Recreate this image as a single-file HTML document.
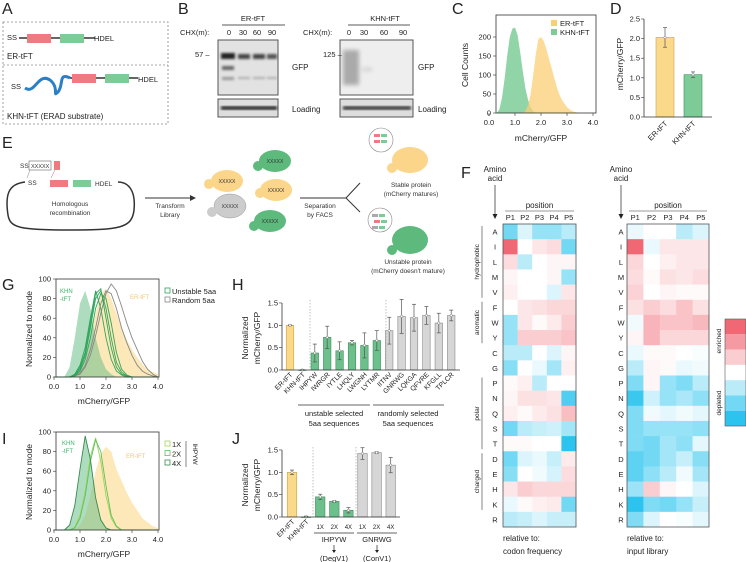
<!DOCTYPE html>
<html><head><meta charset="utf-8"><style>
html,body{margin:0;padding:0;background:#fff;width:746px;height:562px;overflow:hidden}
svg{font-family:"Liberation Sans",sans-serif;display:block}
</style></head><body>
<svg id="fig" width="746" height="562" viewBox="0 0 746 562">
<defs>
<filter id="blur1"><feGaussianBlur stdDeviation="1.2"/></filter>
<filter id="blur2"><feGaussianBlur stdDeviation="2"/></filter>
</defs>
<!-- Panel labels -->
<g font-size="16" fill="#222">
<text x="2" y="14">A</text><text x="178" y="14">B</text><text x="452" y="14">C</text><text x="610" y="14">D</text>
<text x="2" y="148">E</text><text x="461" y="178">F</text><text x="2" y="290">G</text><text x="232" y="290">H</text>
<text x="2" y="444">I</text><text x="232" y="444">J</text>
</g>
<!-- Panel A -->
<g font-size="7.5" fill="#222">
<rect x="3" y="22" width="165" height="102" fill="none" stroke="#888" stroke-dasharray="2,2" stroke-width="0.8"/>
<line x1="3" y1="65" x2="168" y2="65" stroke="#888" stroke-dasharray="2,2" stroke-width="0.8"/>
<text x="7" y="40">SS</text>
<line x1="19" y1="38" x2="95" y2="38" stroke="#333" stroke-width="1.5"/>
<rect x="27" y="34" width="24" height="9" fill="#f07a80"/>
<rect x="60" y="34" width="24" height="9" fill="#7dcc98"/>
<text x="94" y="41">HDEL</text>
<text x="7" y="59" font-size="8">ER-tFT</text>
<path d="M25,88 C35,95 38,72 50,80 C60,88 52,98 58,92 C64,85 58,72 70,78" stroke="#2a7fc6" stroke-width="3" fill="none"/>
<text x="11" y="89">SS</text>
<line x1="70" y1="78" x2="138" y2="78" stroke="#333" stroke-width="1.5"/>
<rect x="72" y="74" width="24" height="9" fill="#f07a80"/>
<rect x="105" y="74" width="24" height="9" fill="#7dcc98"/>
<text x="138" y="82">HDEL</text>
<text x="7" y="119" font-size="8">KHN-tFT (ERAD substrate)</text>
</g>
<!-- Panel B -->
<g font-size="7.5" fill="#222">
<text x="253" y="21" text-anchor="middle" font-size="7.5">ER-tFT</text>
<line x1="222" y1="25" x2="285" y2="25" stroke="#222" stroke-width="0.8"/>
<text x="180" y="35">CHX(m):</text>
<text x="229" y="35" text-anchor="middle">0</text><text x="243" y="35" text-anchor="middle">30</text><text x="257" y="35" text-anchor="middle">60</text><text x="272" y="35" text-anchor="middle">90</text>
<rect x="218" y="40" width="60" height="55" fill="#e2e2e2" stroke="#555"/>
<g filter="url(#blur1)">
<rect x="221" y="53" width="14" height="6" fill="#222"/><rect x="238" y="54" width="12" height="5" fill="#444"/><rect x="253" y="54" width="12" height="5" fill="#444"/><rect x="267" y="54" width="10" height="5" fill="#555"/>
<rect x="222" y="66" width="12" height="4" fill="#666"/><rect x="222" y="77" width="12" height="3" fill="#999"/><rect x="238" y="77" width="12" height="2" fill="#aaa"/><rect x="253" y="77" width="12" height="2" fill="#aaa"/><rect x="267" y="77" width="10" height="2" fill="#aaa"/>
</g>
<rect x="218" y="99" width="60" height="18" fill="#ddd" stroke="#555"/>
<g filter="url(#blur1)"><rect x="221" y="106" width="56" height="4" fill="#333"/></g>
<text x="195" y="57">57 –</text><text x="292" y="70" font-size="8">GFP</text><text x="292" y="112" font-size="8">Loading</text>
<text x="385" y="21" text-anchor="middle">KHN-tFT</text>
<line x1="348" y1="25" x2="410" y2="25" stroke="#222" stroke-width="0.8"/>
<text x="303" y="35">CHX(m):</text>
<text x="349" y="35" text-anchor="middle">0</text><text x="364" y="35" text-anchor="middle">30</text><text x="384" y="35" text-anchor="middle">60</text><text x="403" y="35" text-anchor="middle">90</text>
<rect x="340" y="40" width="73" height="55" fill="#eee" stroke="#555"/>
<g filter="url(#blur2)"><rect x="343" y="50" width="16" height="35" fill="#aaa"/><rect x="362" y="68" width="10" height="3" fill="#ccc"/></g>
<rect x="340" y="99" width="73" height="18" fill="#ddd" stroke="#555"/>
<g filter="url(#blur1)"><rect x="343" y="106" width="68" height="4" fill="#444"/></g>
<text x="323" y="57">125 –</text><text x="418" y="70" font-size="8">GFP</text><text x="418" y="112" font-size="8">Loading</text>
</g>
<!-- Panel E -->
<g font-size="6.5" fill="#333">
<rect x="29" y="161" width="22" height="9" fill="#fff" stroke="#666" stroke-width="0.6"/>
<text x="20" y="168">SS</text><text x="31" y="168" font-size="5.5">XXXXX</text>
<rect x="54" y="161" width="6" height="9" fill="#f07a80"/>
<line x1="30" y1="170" x2="27" y2="178" stroke="#888" stroke-width="0.5"/><line x1="55" y1="170" x2="51" y2="178" stroke="#888" stroke-width="0.5"/>
<path d="M25,182 C8,184 5,195 8,215 C10,228 20,230 70,230 C120,230 132,228 134,210 C136,190 128,182 118,182" fill="none" stroke="#333" stroke-width="1.5"/>
<text x="28" y="185">SS</text>
<rect x="50" y="180" width="18" height="7" fill="#f07a80"/><rect x="73" y="180" width="18" height="7" fill="#7dcc98"/>
<text x="95" y="186">HDEL</text>
<text x="70" y="206" text-anchor="middle">Homologous</text><text x="70" y="215" text-anchor="middle">recombination</text>
<line x1="145" y1="198" x2="195" y2="198" stroke="#333"/><path d="M196,198 l-6,-3 v6z" fill="#333"/>
<text x="170" y="208" text-anchor="middle">Transform</text><text x="170" y="217" text-anchor="middle">Library</text>
<g font-size="5">
<ellipse cx="227" cy="181" rx="16" ry="11" fill="#fad58a"/><circle cx="209" cy="184" r="5" fill="#fad58a"/><text x="227" y="183" text-anchor="middle">XXXXX</text>
<ellipse cx="275" cy="161" rx="16" ry="11" fill="#5dba7c"/><circle cx="258" cy="166" r="5" fill="#5dba7c"/><text x="275" y="163" text-anchor="middle">XXXXX</text>
<ellipse cx="276" cy="190" rx="16" ry="11" fill="#fad58a"/><circle cx="260" cy="193" r="5" fill="#fad58a"/><text x="276" y="192" text-anchor="middle">XXXXX</text>
<ellipse cx="230" cy="206" rx="16" ry="12" fill="#ccc" stroke="#999" stroke-width="0.5"/><circle cx="212" cy="212" r="5" fill="#ccc"/><text x="230" y="208" text-anchor="middle">XXXXX</text>
<ellipse cx="270" cy="221" rx="16" ry="11" fill="#5dba7c"/><circle cx="254" cy="226" r="5" fill="#5dba7c"/><text x="270" y="223" text-anchor="middle">XXXXX</text>
</g>
<line x1="300" y1="198" x2="346" y2="198" stroke="#333"/>
<line x1="346" y1="198" x2="360" y2="183" stroke="#333"/><line x1="346" y1="198" x2="360" y2="212" stroke="#333"/>
<text x="320" y="208" text-anchor="middle">Separation</text><text x="320" y="217" text-anchor="middle">by FACS</text>
<ellipse cx="410" cy="160" rx="18" ry="13" fill="#fad58a"/><circle cx="392" cy="168" r="5" fill="#fad58a"/>
<circle cx="381" cy="140" r="12" fill="#fff" stroke="#888" stroke-width="0.6"/>
<rect x="374" y="134" width="6" height="3" fill="#f07a80"/><rect x="381" y="134" width="6" height="3" fill="#7dcc98"/><rect x="374" y="140" width="6" height="3" fill="#f07a80"/><rect x="381" y="140" width="6" height="3" fill="#7dcc98"/>
<text x="411" y="187" text-anchor="middle">Stable protein</text><text x="411" y="196" text-anchor="middle">(mCherry matures)</text>
<ellipse cx="410" cy="240" rx="18" ry="14" fill="#5dba7c"/><circle cx="392" cy="250" r="5" fill="#5dba7c"/>
<circle cx="380" cy="220" r="12" fill="#fff" stroke="#888" stroke-width="0.6"/>
<rect x="372" y="214" width="6" height="3" fill="#aaa"/><rect x="379" y="214" width="6" height="3" fill="#7dcc98"/><rect x="374" y="220" width="6" height="3" fill="#f07a80"/><rect x="381" y="220" width="6" height="3" fill="#7dcc98"/><rect x="372" y="226" width="6" height="3" fill="#aaa"/><rect x="379" y="226" width="6" height="3" fill="#7dcc98"/>
<text x="408" y="264" text-anchor="middle">Unstable protein</text><text x="408" y="273" text-anchor="middle">(mCherry doesn't mature)</text>
</g>
<g id="charts"></g>
</svg>
<script>
// ---------- DATA ----------
var cX = [0.3,0.4,0.5,0.6,0.7,0.8,0.9,1.0,1.1,1.2,1.3,1.4,1.5,1.6,1.7,1.8,1.9,2.0,2.1,2.2,2.3,2.4,2.5,2.6,2.7,2.8,2.9,3.0,3.1,3.2,3.3,3.4,3.5];
var cKHN = [0,10,40,90,150,200,222,225,205,160,110,65,35,15,5,0,0,0,0,0,0,0,0,0,0,0,0,0,0,0,0,0,0];
var cER = [0,0,0,0,0,0,0,0,0,0,0,5,20,50,100,155,195,200,190,170,145,120,95,70,50,35,25,15,10,5,3,1,0];
var cTicksX = [0,1,2,3,4];
var cTicksY = [0,50,100,150,200];
var dCats = ["ER-tFT","KHN-tFT"];
var dVals = [2.03,1.08];
var dErr = [0.25,0.07];
var dTicks = [0,0.5,1.0,1.5,2.0,2.5];
var gX = [0,0.2,0.4,0.6,0.8,1.0,1.2,1.4,1.6,1.8,2.0,2.2,2.4,2.6,2.8,3.0,3.2,3.4,3.6,3.8,4.0];
var gKHN = [0,0,0,10,40,75,88,70,40,20,8,3,0,0,0,0,0,0,0,0,0];
var gER = [0,0,0,0,2,8,20,40,65,85,90,80,65,50,38,28,20,13,8,5,3];
var gU1 = [0,0,0,0,3,12,30,60,88,70,40,18,6,2,0,0,0,0,0,0,0];
var gU2 = [0,0,0,0,2,10,25,55,85,90,60,30,10,3,1,0,0,0,0,0,0];
var gU3 = [0,0,0,0,2,8,22,50,80,88,70,40,15,5,1,0,0,0,0,0,0];
var gU4 = [0,0,0,0,1,6,18,40,70,85,80,55,25,8,2,0,0,0,0,0,0];
var gR1 = [0,0,0,0,1,4,12,28,50,75,88,85,70,50,35,22,12,6,3,1,0];
var gR2 = [0,0,0,0,1,3,10,22,42,65,85,95,88,72,55,40,28,16,8,3,0];
var iKHN = [0,0,0,5,25,60,95,75,35,12,3,0,0,0,0,0,0,0,0,0,0];
var iER = [0,0,0,0,1,5,15,35,60,78,85,80,62,50,38,28,20,12,8,4,2];
var i1X = [0,0,0,0,3,15,40,75,94,70,35,12,3,0,0,0,0,0,0,0,0];
var i2X = [0,0,0,0,2,12,35,70,92,80,45,15,4,0,0,0,0,0,0,0,0];
var i4X = [0,0,0,5,25,62,96,72,33,10,2,0,0,0,0,0,0,0,0,0,0];
var histTicksY = [0,20,40,60,80,100];
var hCats = ["ER-tFT","KHN-tFT","IHPYW","IWRGR","IYTLE","LHQLY","LWGNH","LYTMR","IITNV","GNRWG","LQKGA","QFVRE","KFGLL","TPLCR"];
var hVals = [1.0,0.0,0.38,0.73,0.43,0.61,0.55,0.66,0.88,1.2,1.17,1.22,1.05,1.22];
var hErr = [0.01,0.01,0.2,0.25,0.2,0.05,0.28,0.22,0.3,0.38,0.3,0.2,0.22,0.12];
var hGroup = ["er","khn","u","u","u","u","u","u","r","r","r","r","r","r"];
var jCats = ["ER-tFT","KHN-tFT","1X","2X","4X","1X","2X","4X"];
var jVals = [1.0,0.0,0.45,0.35,0.15,1.42,1.44,1.16];
var jErr = [0.05,0.02,0.06,0.02,0.06,0.13,0.02,0.17];
var jGroup = ["er","khn","u","u","u","r","r","r"];
var barTicks = [0,0.5,1.0,1.5];
var aminoAcids = ["A","I","L","M","V","F","W","Y","C","G","P","N","Q","S","T","D","E","H","K","R"];
var positions = ["P1","P2","P3","P4","P5"];
var heatCodon = [
[-2,-0.5,-1.5,-1.5,-1],[3,0,0.5,0.7,-2],[0.7,-1,0,0.2,0.2],[0.2,0,0,0.2,-1.5],[0.3,0,0,-0.5,0.5],
[0,0.5,0.6,0.8,0.8],[-1.5,0.5,0.1,0.4,1],[-1.5,1,1,1,1.2],[-1,-1,0,-0.5,0.2],[-1.7,0,-0.3,-1.3,0.3],
[0.1,0.3,-1,0,0],[0.2,0.6,0.6,0.5,-2.5],[0.3,0.1,0.4,0.6,1.3],[-2,-1,-0.8,-0.7,-1.3],[0.1,0.1,0,0,-3],
[-2,-0.5,-0.3,-0.8,0.4],[-1.7,0,-0.2,-0.6,0.7],[0.5,1,0.8,0.8,0.8],[-0.3,0.1,0.3,0.4,-2],[-1,-0.8,-0.5,-0.8,-0.8]];
var heatInput = [
[-0.3,0,0,-1,-0.5],[3,-0.3,0.5,0.5,0.5],[0.8,0,0.3,0.5,0.5],[0.7,0.1,0.6,0.5,0.7],[0.9,0,0.2,0.1,0.1],
[0.6,1,0.7,1.2,0.6],[-0.2,1.5,1.2,1.2,1.4],[0.2,1.5,0.8,0.8,0.8],[-0.3,0.1,0.1,0,-0.1],[-1,0.2,0.1,-0.3,-0.2],
[-1.8,0.2,-1.5,-1.8,-1],[-2.8,-0.7,-1.5,-1.2,-1.6],[-1.8,-0.2,-0.4,-0.2,-0.4],[-1.8,-1.5,-1.5,-1.5,-1.6],[-1.8,-2,-1.3,-1.6,-0.4],
[-2.3,-2,-1.3,-0.8,-1.7],[-2.3,-1.6,-1,-0.2,-1.3],[-1.4,1,0.2,0,-0.5],[-3,-1.8,-2,-1.5,-0.8],[-1.8,-0.5,0,-0.1,-0.4]];
var legendLevels = [3,2,1,0,-1,-2,-3];

// ---------- HELPERS ----------
var NS = "http://www.w3.org/2000/svg";
var root = document.getElementById("charts");
function mk(tag, attrs, parent, txt) {
  var el = document.createElementNS(NS, tag);
  for (var k in attrs) el.setAttribute(k, attrs[k]);
  if (txt !== undefined) el.textContent = txt;
  (parent || root).appendChild(el);
  return el;
}
function grp(name) {
  var g = mk("g", {});
  
  
  return g;
}
function heatColor(v) {
  var t = Math.min(1, Math.abs(v) / 3);
  var c = v >= 0 ? [240,104,116] : [44,196,238];
  var r = Math.round(255 + (c[0]-255)*t), g = Math.round(255 + (c[1]-255)*t), b = Math.round(255 + (c[2]-255)*t);
  return "rgb(" + r + "," + g + "," + b + ")";
}
function histPath(xs, ys, sx, sy, close) {
  var d = "";
  for (var i = 0; i < xs.length; i++) d += (i ? "L" : "M") + sx(xs[i]).toFixed(1) + "," + sy(ys[i]).toFixed(1);
  if (close) d += "L" + sx(xs[xs.length-1]).toFixed(1) + "," + sy(0) + "L" + sx(xs[0]).toFixed(1) + "," + sy(0) + "Z";
  return d;
}
var FS = 7.5;

// ---------- PANEL C ----------
(function(){
  var g = grp("panel-c-histogram");
  var sx = function(v){return 489 + v*26;}, sy = function(v){return 113 - v*0.38;};
  var a = mk("path", {d: histPath(cX, cKHN, sx, sy, true), fill:"#7dcc98", "fill-opacity":"0.85"}, g);
  
  
  var b = mk("path", {d: histPath(cX, cER, sx, sy, true), fill:"#fbcf75", "fill-opacity":"0.75"}, g);
  
  
  mk("rect", {x:496, y:15, width:100, height:98, fill:"none", stroke:"#333", "stroke-width":0.8}, g);
  cTicksX.forEach(function(t){
    mk("line",{x1:sx(t),y1:113,x2:sx(t),y2:116,stroke:"#333","stroke-width":0.6},g);
    var tx = mk("text",{x:sx(t),y:125,"font-size":FS,"text-anchor":"middle",fill:"#222"},g,t.toFixed(1));
    
    
  });
  cTicksY.forEach(function(t){
    mk("line",{x1:493,y1:sy(t),x2:496,y2:sy(t),stroke:"#333","stroke-width":0.6},g);
    var ty = mk("text",{x:491,y:sy(t)+2.5,"font-size":FS,"text-anchor":"end",fill:"#222"},g,t);
    
    
  });
  var xl = mk("text",{x:541,y:141,"font-size":8.5,"text-anchor":"middle",fill:"#222"},g,"mCherry/GFP");
  
  
  var yl = mk("text",{x:0,y:0,"font-size":8.5,"text-anchor":"middle",fill:"#222",transform:"translate(468,65) rotate(-90)"},g,"Cell Counts");
  
  
  mk("rect",{x:551,y:20,width:6,height:6,fill:"#fbcf75"},g);
  var l1 = mk("text",{x:560,y:26,"font-size":FS,fill:"#222"},g,"ER-tFT");
  
  
  mk("rect",{x:551,y:29,width:6,height:6,fill:"#7dcc98"},g);
  var l2 = mk("text",{x:560,y:35,"font-size":FS,fill:"#222"},g,"KHN-tFT");
  
  
})();

// ---------- BAR HELPER ----------
function barChart(g, cats, vals, errs, groups, centers, bw, sy, y0, ticks, axisX, axisR, fmt, prefix) {
  var fills = {er:"#fbd98b", khn:"#7dcc98", u:"#6cc08b", r:"#d6d6d6"};
  var strokes = {er:"#c9a24a", khn:"#3d8f5b", u:"#3d8f5b", r:"#888"};
  cats.forEach(function(c,i){
    var cx = centers[i], top = sy(vals[i]);
    var r = mk("rect",{x:cx-bw/2,y:top,width:bw,height:Math.max(0.5,y0-top),fill:fills[groups[i]],stroke:strokes[groups[i]],"stroke-width":0.6},g);
    
    
    var e1 = sy(vals[i]+errs[i]), e2 = sy(Math.max(0,vals[i]-errs[i]));
    mk("line",{x1:cx,y1:e1,x2:cx,y2:e2,stroke:"#555","stroke-width":0.7},g);
    mk("line",{x1:cx-2,y1:e1,x2:cx+2,y2:e1,stroke:"#555","stroke-width":0.7},g);
    mk("line",{x1:cx-2,y1:e2,x2:cx+2,y2:e2,stroke:"#555","stroke-width":0.7},g);
    mk("circle",{cx:cx,cy:top,r:1.2,fill:"#fff",stroke:"#777","stroke-width":0.5},g);
  });
  mk("line",{x1:axisX,y1:y0,x2:axisR,y2:y0,stroke:"#333","stroke-width":0.8},g);
  mk("line",{x1:axisX,y1:y0,x2:axisX,y2:sy(ticks[ticks.length-1]),stroke:"#333","stroke-width":0.8},g);
  ticks.forEach(function(t){
    mk("line",{x1:axisX-3,y1:sy(t),x2:axisX,y2:sy(t),stroke:"#333","stroke-width":0.6},g);
    var tt = mk("text",{x:axisX-4,y:sy(t)+2.5,"font-size":FS,"text-anchor":"end",fill:"#222"},g,t.toFixed(1));
    
    
  });
}

// ---------- PANEL D ----------
(function(){
  var g = grp("panel-d-bar-chart");
  var sy = function(v){return 117 - v*39.2;};
  var centers = [665, 693];
  barChart(g, dCats, dVals, dErr, ["er","khn"], centers, 18, sy, 117, dTicks, 644, 712, 1, "d");
  dCats.forEach(function(c,i){
    var t = mk("text",{x:0,y:0,"font-size":FS,"text-anchor":"end",fill:"#222",transform:"translate("+(centers[i]+3)+",124) rotate(-45)"},g,c);
    
    
  });
  var yl = mk("text",{x:0,y:0,"font-size":8.5,"text-anchor":"middle",fill:"#222",transform:"translate(623,64) rotate(-90)"},g,"mCherry/GFP");
  
  
})();

// ---------- HISTOGRAMS G & I ----------
function histPanel(name, top, fills, lines, legend) {
  var g = grp(name);
  var bottom = top + 98;
  var sx = function(v){return 54 + v*26;}, sy = function(v){return bottom - v*0.98;};
  fills.forEach(function(f){
    var p = mk("path",{d:histPath(gX,f.d,sx,sy,true),fill:f.c,"fill-opacity":f.o},g);
    
    
  });
  lines.forEach(function(f){
    var p = mk("path",{d:histPath(gX,f.d,sx,sy,false),fill:"none",stroke:f.c,"stroke-width":0.9},g);
    
    
  });
  mk("rect",{x:56,y:top,width:103,height:98,fill:"none",stroke:"#333","stroke-width":0.8},g);
  cTicksX.forEach(function(t){
    mk("line",{x1:sx(t),y1:bottom,x2:sx(t),y2:bottom+3,stroke:"#333","stroke-width":0.6},g);
    var tx = mk("text",{x:sx(t),y:bottom+12,"font-size":FS,"text-anchor":"middle",fill:"#222"},g,t.toFixed(1));
    
    
  });
  histTicksY.forEach(function(t){
    mk("line",{x1:53,y1:sy(t),x2:56,y2:sy(t),stroke:"#333","stroke-width":0.6},g);
    var ty = mk("text",{x:51,y:sy(t)+2.5,"font-size":FS,"text-anchor":"end",fill:"#222"},g,t);
    
    
  });
  var xl = mk("text",{x:104,y:bottom+27,"font-size":8.5,"text-anchor":"middle",fill:"#222"},g,"mCherry/GFP");
  
  
  var yl = mk("text",{x:0,y:0,"font-size":8.5,"text-anchor":"middle",fill:"#222",transform:"translate(32,"+(top+50)+") rotate(-90)"},g,"Normalized to mode");
  
  
  legend(g, top);
}
histPanel("panel-g-histogram", 279,
  [{d:gER,c:"#fbd98b",o:0.6,n:"g-er-tft-fill"},{d:gKHN,c:"#6cc08b",o:0.55,n:"g-khn-tft-fill"}],
  [{d:gR1,c:"#888",n:"g-random-1"},{d:gR2,c:"#888",n:"g-random-2"},{d:gU1,c:"#2fa55a",n:"g-unstable-1"},{d:gU2,c:"#2fa55a",n:"g-unstable-2"},{d:gU3,c:"#2fa55a",n:"g-unstable-3"},{d:gU4,c:"#2fa55a",n:"g-unstable-4"}],
  function(g, top){
    mk("text",{x:60,y:293,"font-size":6,fill:"#3bb56a"},g,"KHN");
    mk("text",{x:60,y:301,"font-size":6,fill:"#3bb56a"},g,"-tFT");
    mk("text",{x:130,y:299,"font-size":6,fill:"#f2c77a"},g,"ER-tFT");
    mk("rect",{x:165,y:288,width:5,height:5,fill:"none",stroke:"#2fa55a","stroke-width":0.8},g);
    var a = mk("text",{x:172,y:294,"font-size":FS,fill:"#222"},g,"Unstable 5aa");
    
    
    mk("rect",{x:165,y:297,width:5,height:5,fill:"none",stroke:"#888","stroke-width":0.8},g);
    var b = mk("text",{x:172,y:303,"font-size":FS,fill:"#222"},g,"Random 5aa");
    
    
  });
histPanel("panel-i-histogram", 432,
  [{d:iER,c:"#fbd98b",o:0.6,n:"i-er-tft-fill"},{d:iKHN,c:"#6cc08b",o:0.55,n:"i-khn-tft-fill"}],
  [{d:i1X,c:"#9fd45a",n:"i-1x-line"},{d:i2X,c:"#5cc25e",n:"i-2x-line"},{d:i4X,c:"#3a8a50",n:"i-4x-line"}],
  function(g, top){
    mk("text",{x:62,y:445,"font-size":6,fill:"#3bb56a"},g,"KHN");
    mk("text",{x:62,y:453,"font-size":6,fill:"#3bb56a"},g,"-tFT");
    mk("text",{x:126,y:458,"font-size":6,fill:"#f2c77a"},g,"ER-tFT");
    var labs = ["1X","2X","4X"], cols = ["#9fd45a","#5cc25e","#3a8a50"];
    labs.forEach(function(l,i){
      mk("rect",{x:165,y:441+i*9.5,width:5,height:5,fill:"none",stroke:cols[i],"stroke-width":0.8},g);
      var t = mk("text",{x:172,y:447+i*9.5,"font-size":FS,fill:"#222"},g,l);
      
      
    });
    mk("line",{x1:186,y1:441,x2:186,y2:467,stroke:"#333","stroke-width":0.6},g);
    mk("text",{x:0,y:0,"font-size":6.5,fill:"#222","text-anchor":"middle",transform:"translate(193,454) rotate(90)"},g,"IHPYW");
  });

// ---------- PANEL H ----------
(function(){
  var g = grp("panel-h-bar-chart");
  var sy = function(v){return 370 - v*44.7;};
  var centers = hCats.map(function(c,i){return 290 + i*12.4;});
  barChart(g, hCats, hVals, hErr, hGroup, centers, 7.5, sy, 370, barTicks, 282, 460, 1, "h");
  [310, 386].forEach(function(x){ mk("line",{x1:x,y1:300,x2:x,y2:370,stroke:"#999","stroke-dasharray":"1.5,1.5","stroke-width":0.6},g); });
  hCats.forEach(function(c,i){
    var t = mk("text",{x:0,y:0,"font-size":6.8,"text-anchor":"end",fill:"#222",transform:"translate("+(centers[i]+3)+",375) rotate(-45)"},g,c);
    
    
  });
  mk("line",{x1:298,y1:405,x2:370,y2:405,stroke:"#333","stroke-width":0.7},g);
  mk("line",{x1:373,y1:405,x2:444,y2:405,stroke:"#333","stroke-width":0.7},g);
  mk("text",{x:334,y:416,"font-size":FS,"text-anchor":"middle",fill:"#222"},g,"unstable selected");
  mk("text",{x:334,y:426,"font-size":FS,"text-anchor":"middle",fill:"#222"},g,"5aa sequences");
  mk("text",{x:408,y:416,"font-size":FS,"text-anchor":"middle",fill:"#222"},g,"randomly selected");
  mk("text",{x:408,y:426,"font-size":FS,"text-anchor":"middle",fill:"#222"},g,"5aa sequences");
  mk("text",{x:0,y:0,"font-size":8.5,"text-anchor":"middle",fill:"#222",transform:"translate(248,338) rotate(-90)"},g,"Normalized");
  mk("text",{x:0,y:0,"font-size":8.5,"text-anchor":"middle",fill:"#222",transform:"translate(260,338) rotate(-90)"},g,"mCherry/GFP");
})();

// ---------- PANEL J ----------
(function(){
  var g = grp("panel-j-bar-chart");
  var sy = function(v){return 517 - v*44.7;};
  var centers = jCats.map(function(c,i){return 292 + i*14.1;});
  barChart(g, jCats, jVals, jErr, jGroup, centers, 9.5, sy, 517, barTicks, 282, 400, 1, "j");
  [313, 356].forEach(function(x){ mk("line",{x1:x,y1:447,x2:x,y2:517,stroke:"#999","stroke-dasharray":"1.5,1.5","stroke-width":0.6},g); });
  jCats.forEach(function(c,i){
    var t;
    if (i < 2) t = mk("text",{x:0,y:0,"font-size":6.8,"text-anchor":"end",fill:"#222",transform:"translate("+(centers[i]+3)+",522) rotate(-45)"},g,c);
    else t = mk("text",{x:centers[i],y:529,"font-size":6,"text-anchor":"middle",fill:"#222"},g,c);
    
    
  });
  mk("line",{x1:314,y1:533,x2:354,y2:533,stroke:"#333","stroke-width":0.7},g);
  mk("line",{x1:357,y1:533,x2:397,y2:533,stroke:"#333","stroke-width":0.7},g);
  mk("text",{x:334,y:542,"font-size":FS,"text-anchor":"middle",fill:"#222"},g,"IHPYW");
  mk("text",{x:377,y:542,"font-size":FS,"text-anchor":"middle",fill:"#222"},g,"GNRWG");
  [334,377].forEach(function(x){ mk("line",{x1:x,y1:545,x2:x,y2:551,stroke:"#222","stroke-width":0.7},g); mk("path",{d:"M"+(x-2)+",550 h4 l-2,3z",fill:"#222"},g); });
  mk("text",{x:334,y:561,"font-size":FS,"text-anchor":"middle",fill:"#222"},g,"(DegV1)");
  mk("text",{x:377,y:561,"font-size":FS,"text-anchor":"middle",fill:"#222"},g,"(ConV1)");
  mk("text",{x:0,y:0,"font-size":8.5,"text-anchor":"middle",fill:"#222",transform:"translate(248,485) rotate(-90)"},g,"Normalized");
  mk("text",{x:0,y:0,"font-size":8.5,"text-anchor":"middle",fill:"#222",transform:"translate(260,485) rotate(-90)"},g,"mCherry/GFP");
})();

// ---------- PANEL F HEATMAPS ----------
function heatmap(name, data, x0, cw, labelX, rel) {
  var g = grp(name);
  var y0 = 224, rh = 303/20;
  data.forEach(function(row, r){
    row.forEach(function(v, c){
      var cell = mk("rect",{x:x0+c*cw,y:y0+r*rh,width:cw+0.3,height:rh+0.3,fill:heatColor(v)},g);
      
      
    });
    var t = mk("text",{x:labelX,y:y0+r*rh+rh/2+3,"font-size":FS,"text-anchor":"middle",fill:"#222"},g,aminoAcids[r]);
    
    
  });
  mk("rect",{x:x0,y:y0,width:cw*5,height:rh*20,fill:"none",stroke:"#555","stroke-width":0.8},g);
  positions.forEach(function(p,c){
    var t = mk("text",{x:x0+c*cw+cw/2,y:220,"font-size":FS,"text-anchor":"middle",fill:"#222"},g,p);
    
    
  });
  mk("line",{x1:x0+2,y1:211,x2:x0+cw*5-2,y2:211,stroke:"#333","stroke-width":0.6},g);
  mk("text",{x:x0+cw*2.5,y:208,"font-size":8,"text-anchor":"middle",fill:"#222"},g,"position");
  mk("text",{x:labelX,y:172,"font-size":8,"text-anchor":"middle",fill:"#222"},g,"Amino");
  mk("text",{x:labelX,y:181,"font-size":8,"text-anchor":"middle",fill:"#222"},g,"acid");
  mk("line",{x1:labelX,y1:185,x2:labelX,y2:215,stroke:"#222","stroke-width":0.7},g);
  mk("path",{d:"M"+(labelX-2.5)+",214 h5 l-2.5,5z",fill:"#222"},g);
  mk("text",{x:x0,y:541,"font-size":8,fill:"#222"},g,"relative to:");
  mk("text",{x:x0,y:554,"font-size":8,fill:"#222"},g,rel);
}
heatmap("heatmap-codon-frequency", heatCodon, 503, 14.6, 495, "codon frequency");
heatmap("heatmap-input-library", heatInput, 627, 16.4, 621, "input library");
(function(){
  var g = grp("heatmap-categories");
  var rh = 303/20, y0 = 224;
  var cats = [["hydrophobic",0,5],["aromatic",5,8],["polar",10,15],["charged",15,19]];
  cats.forEach(function(c){
    var a = y0 + c[1]*rh + 2, b = y0 + c[2]*rh - 2;
    mk("line",{x1:482,y1:a,x2:482,y2:b,stroke:"#333","stroke-width":0.6},g);
    var t = mk("text",{x:0,y:0,"font-size":6.5,"text-anchor":"middle",fill:"#222",transform:"translate(479,"+((a+b)/2)+") rotate(-90)"},g,c[0]);
    
    
  });
  var lg = grp("heatmap-color-legend");
  legendLevels.forEach(function(v,i){
    var r = mk("rect",{x:725,y:319+i*15.3,width:21,height:15.3,fill:heatColor(v)},lg);
    
    
  });
  mk("rect",{x:725,y:319,width:21,height:107,fill:"none",stroke:"#555","stroke-width":0.6},lg);
  mk("text",{x:0,y:0,"font-size":6.5,"text-anchor":"middle",fill:"#222",transform:"translate(721,341) rotate(-90)"},lg,"enriched");
  mk("text",{x:0,y:0,"font-size":6.5,"text-anchor":"middle",fill:"#222",transform:"translate(721,403) rotate(-90)"},lg,"depleted");
})();
</script>
</body></html>
